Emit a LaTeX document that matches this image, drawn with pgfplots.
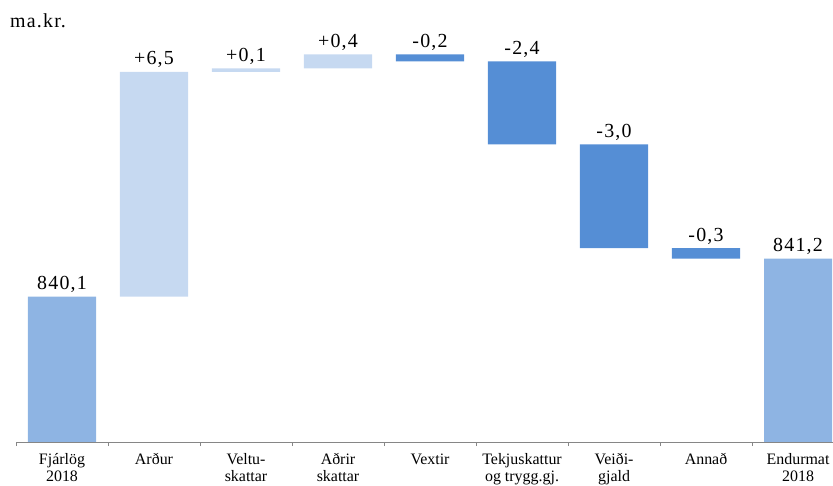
\documentclass[border=0pt]{standalone}
\usepackage{pgfplots}
\pgfplotsset{compat=1.18}
\usepackage{pgfplotstable}
\usepackage{fontspec}
\setmainfont{Liberation Serif}
\newfontfamily\tickfont{Liberation Serif}
\newfontfamily\valfont[LetterSpace=6]{Liberation Serif}
\definecolor{upc}{HTML}{C6D9F1}
\definecolor{endc}{HTML}{8EB4E3}
\definecolor{downc}{HTML}{558ED5}
\definecolor{axc}{HTML}{868686}

% floating steps: base (invisible), increase, decrease
\pgfplotstableread{
x base ups downs
1 840.1 6.5 0
2 846.6 0.1 0
3 846.7 0.4 0
4 846.9 0 0.2
5 844.5 0 2.4
6 841.5 0 3.0
7 841.2 0 0.3
}\wf

% totals
\pgfplotstableread{
x val
0 840.1
8 841.2
}\ends

\pgfplotstableread{
x top lab
0 840.1 840,1
1 846.6 +6,5
2 846.7 +0,1
3 847.1 +0,4
4 847.1 -0,2
5 846.9 -2,4
6 844.5 -3,0
7 841.5 -0,3
8 841.2 841,2
}\labs

\pgfplotsset{
  wfgeom/.style={
    scale only axis,
    width=817bp, height=442bp,
    at={(16bp,44bp)}, anchor=south west,
    xmin=-0.5, xmax=8.38,
    ymin=835.9, ymax=848.675,
  }
}

\begin{document}
\begin{tikzpicture}
\begin{axis}[
  wfgeom,
  ybar stacked,
  bar width=0.74,
  axis x line*=bottom,
  axis y line=none,
  axis line style={axc, line width=0.8pt},
  xtick={0,...,8},
  major tick length=0pt,
  minor xtick={-0.5,0.5,...,7.5},
  minor tick length=4bp,
  tick align=outside,
  minor tick style={axc, line width=0.8pt},
  xticklabels={{Fjárlög\\2018},{Arður},{Veltu-\\skattar},{Aðrir\\skattar},{Vextir},{Tekjuskattur\\og trygg.gj.},{Veiði-\\gjald},{Annað},{Endurmat\\2018}},
  xticklabel style={font=\tickfont\fontsize{16}{16.5}\selectfont, align=center, text depth=0pt, yshift=-8bp},
  ytick=\empty,
]
\addplot[draw=none, fill=none] table[x=x, y=base]{\wf};
\addplot[draw=none, fill=upc] table[x=x, y=ups]{\wf};
\addplot[draw=none, fill=downc] table[x=x, y=downs]{\wf};
\end{axis}
\begin{axis}[
  wfgeom,
  axis lines=none,
  clip=false,
]
\addplot[ybar, bar width=0.74, bar shift=0pt, draw=none, fill=endc] table[x=x, y=val]{\ends};
\addplot[only marks, mark=none, nodes near coords, point meta=explicit symbolic,
  nodes near coords style={font=\valfont\fontsize{20}{22}\selectfont, anchor=base, yshift=7bp, inner sep=0pt}]
  table[x=x, y=top, meta=lab]{\labs};
\end{axis}
\node[anchor=base west, inner sep=0pt, font=\valfont\fontsize{20}{22}\selectfont] at (10bp,458bp) {ma.kr.};
\pgfresetboundingbox
\useasboundingbox (0,0) rectangle (833bp,486bp);
\end{tikzpicture}
\end{document}
